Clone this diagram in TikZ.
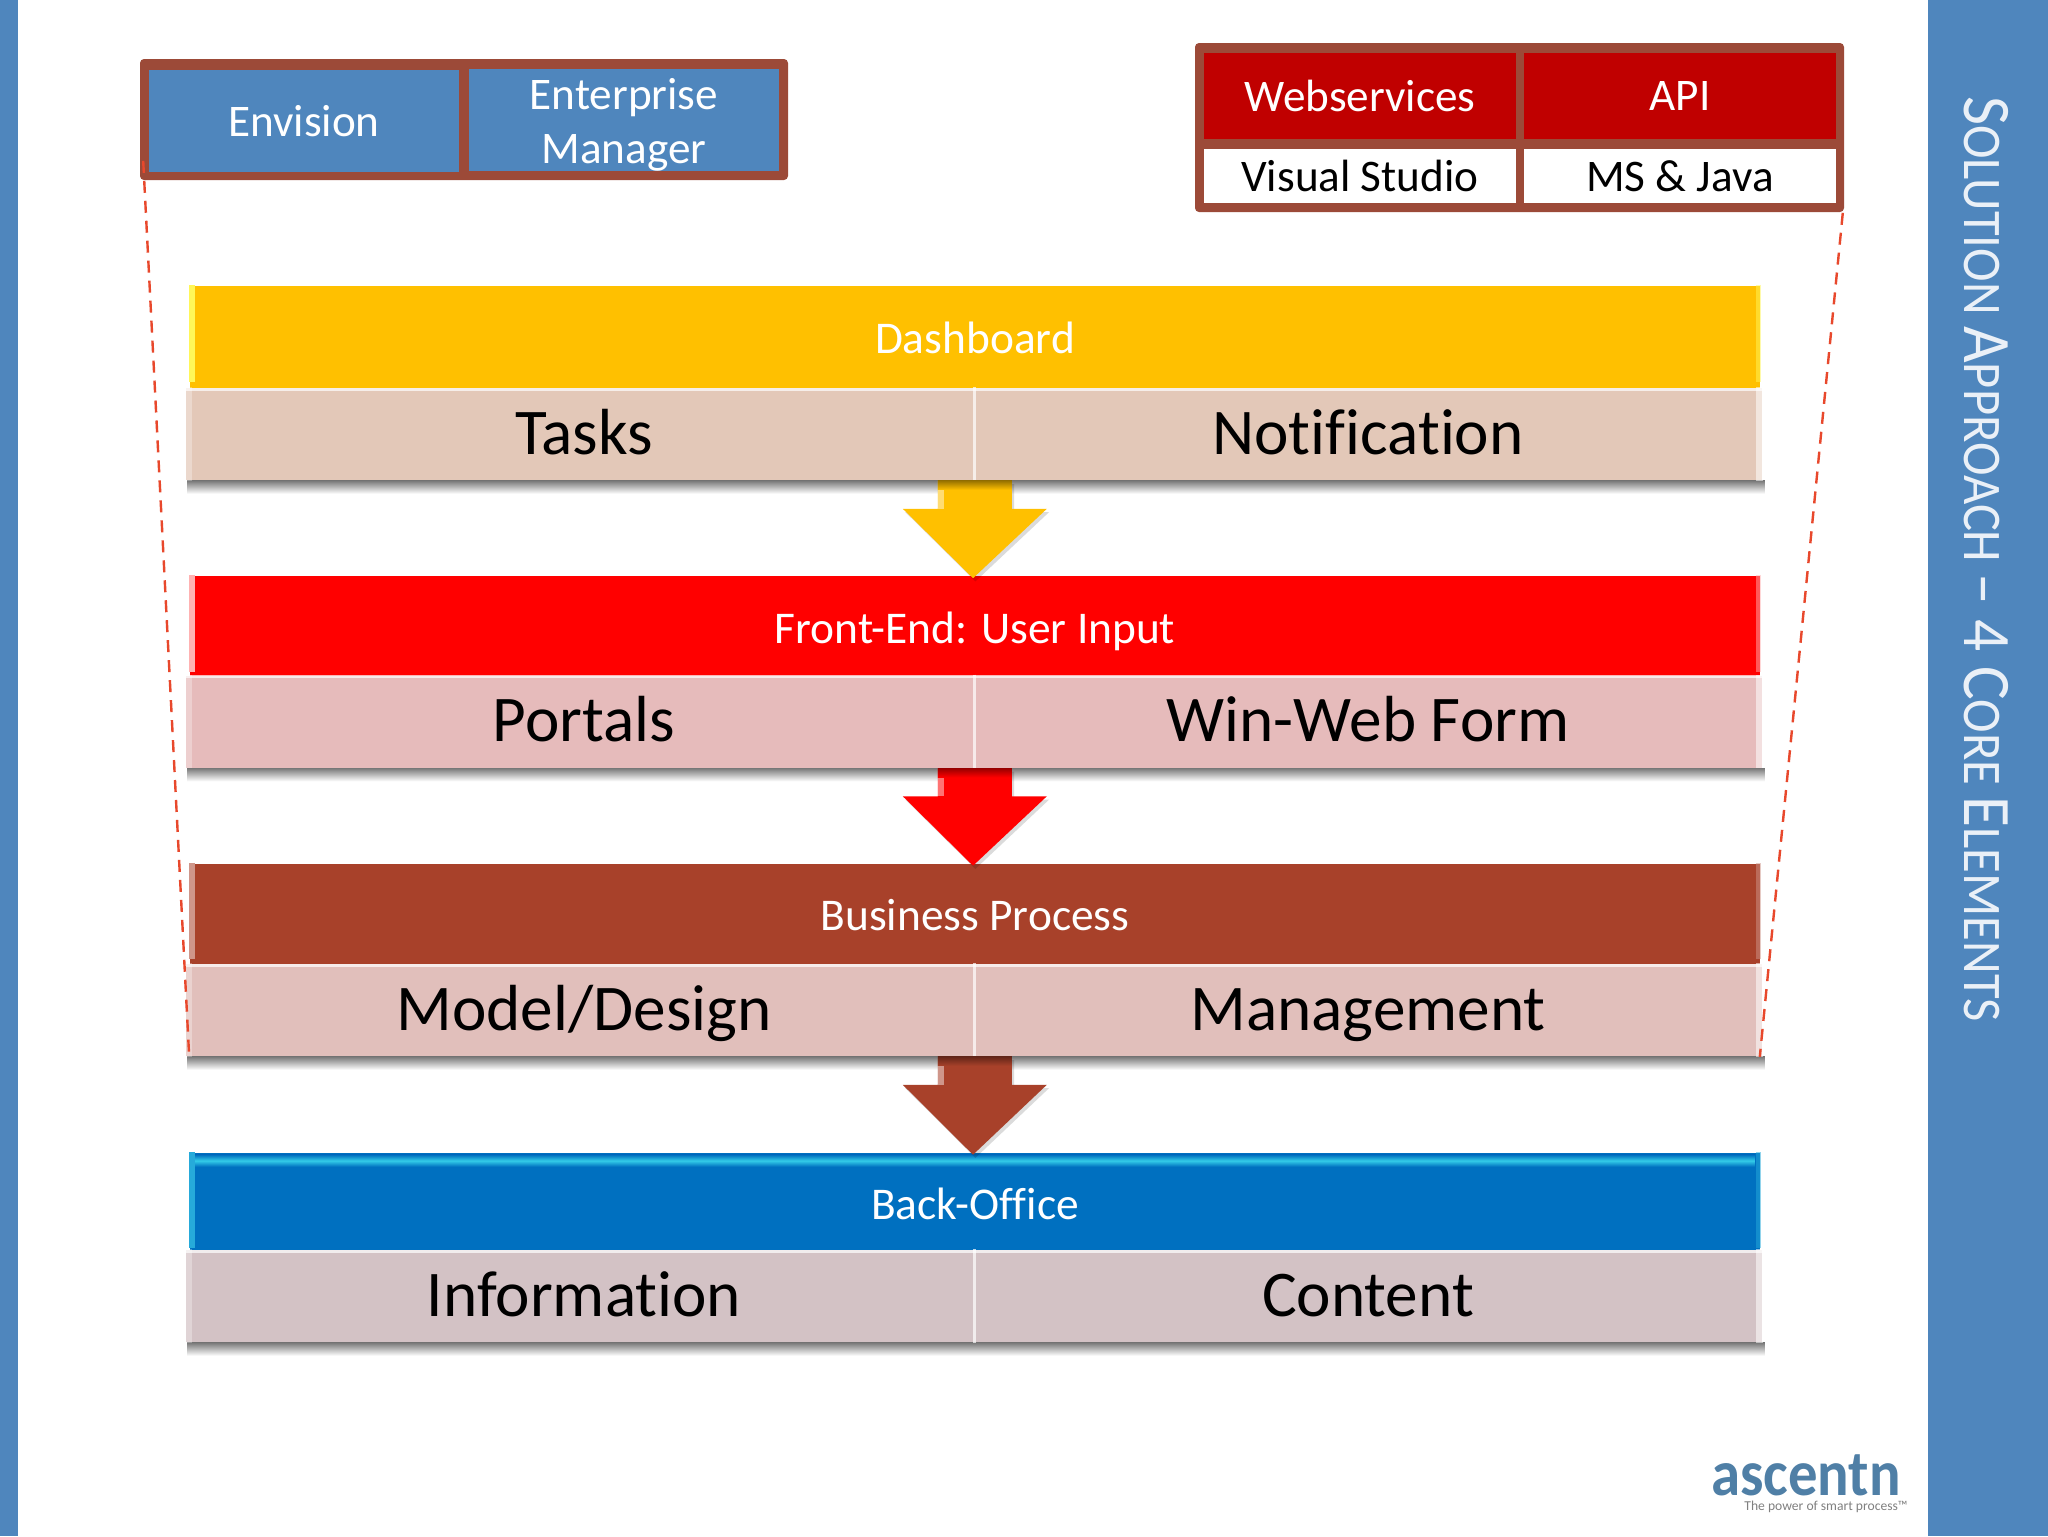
\documentclass[tikz,border=0pt]{standalone}
\usepackage{fontspec}
\setmainfont[RawFeature={-liga}]{Carlito}
\newfontfamily\titleFont[FakeStretch=0.93,RawFeature={-liga}]{Carlito}
\usetikzlibrary{calc, shadows}
\definecolor{bandBlue}{HTML}{4F86BD}
\definecolor{frameBrown}{HTML}{9C4A38}
\definecolor{webRed}{HTML}{C00000}
\definecolor{dashRed}{HTML}{E8482C}
\definecolor{dashYellow}{HTML}{FFC000}
\definecolor{inputRed}{HTML}{FF0000}
\definecolor{processBrown}{HTML}{A8412A}
\definecolor{officeBlue}{HTML}{0070C0}
\definecolor{logoBlue}{HTML}{4F7FA6}
\definecolor{dashSub}{HTML}{E3C8B8}
\definecolor{inputSub}{HTML}{E6BBBB}
\definecolor{processSub}{HTML}{E1BFBB}
\definecolor{officeSub}{HTML}{D3C2C5}
\tikzset{
    cell/.style={rectangle, inner sep=0pt, align=center, font=\fontsize{11.3}{13.7}\selectfont},
    blueCell/.style={cell, fill=bandBlue, text=white, minimum width=77.5pt, minimum height=25.5pt},
    redCell/.style={cell, fill=webRed, text=white, minimum width=78pt, minimum height=21.5pt},
    whiteCell/.style={cell, fill=white, text=black, minimum width=78pt, minimum height=13.5pt},
    layerHead/.style={rectangle, inner sep=0pt, minimum width=392.5pt, minimum height=25.75pt, text=white, text height=8.5pt, text depth=.7pt, font=\fontsize{11.35}{13}\selectfont},
    layerSub/.style={rectangle, inner sep=0pt, minimum width=197pt, minimum height=23pt, text=black, text height=12.3pt, text depth=2.3pt, font=\fontsize{16.3}{18}\selectfont},
    leftSub/.style={layerSub, execute at begin node={\hspace*{2pt}}},
    subEdge/.style={white, opacity=.7, line width=.7pt},
    zoomEdge/.style={dashRed, line width=.6pt, dash pattern=on 3pt off 2pt},
    dropArrow/.style={general shadow={shadow yshift=-.8pt, shadow xshift=.6pt, fill=black, opacity=.14}},
}
% block arrow between two layers
\newcommand{\drawDrop}[3]{
    \fill[#1, dropArrow] ($(#2.south east)+(-37,0)$) -- ++(0,28) -- ++(-35,0) -- ($(#3.north)+(-2,3)$)
        -- ($(#2.south east)+(72,28)$) -- ++(-35,0) -- ($(#2.south east)+(37,0)$) -- cycle;
    \fill[white, opacity=.45] ($(#2.south east)+(-37,0)$) rectangle ($(#2.south east)+(-31,28)$);
    \shade[top color=#1!60!black, bottom color=#1] ($(#2.south east)+(-37,0)$) rectangle ($(#2.south east)+(37,9)$);
}
% soft shadow, seam and light edges of a pair of sub bars
\newcommand{\drawSeam}[2]{
    \shade[top color=black!52, bottom color=white] ($(#1.south west)+(2,0)$) rectangle ($(#2.south east)+(2,13)$);
    \fill[white, opacity=.3] (#1.north west) rectangle ($(#1.south west)+(7,0)$);
    \fill[white, opacity=.55] (#2.north east) rectangle ($(#2.south east)+(-7,0)$);
    \draw[subEdge] ($(#1.north west)+(0,2)$) -- ($(#2.north east)+(0,2)$);
    \draw[subEdge] (#1.north east) -- (#1.south east);
}
% light left and right edges of a layer head
\newcommand{\drawBevel}[2]{
    \fill[#2] (#1.north west) rectangle ($(#1.south west)+(6,-8)$);
    \fill[#2, opacity=.5] ($(#1.north east)+(-5,0)$) rectangle ($(#1.south east)+(0,-8)$);
}
\newcommand{\titleCap}[1]{{\fontsize{17}{20}\selectfont #1}}
\begin{document}
\begin{tikzpicture}[x=0.25pt, y=-0.25pt]
    \useasboundingbox[fill=white] (0,0) rectangle (2048,1536);

    \fill[bandBlue] (0,0) rectangle (18,1536);
    \fill[bandBlue] (1928,0) rectangle (2048,1536);
    \node[rotate=-90, text=white!88!bandBlue, inner sep=0pt, font=\titleFont\fontsize{13.6}{16}\selectfont] (title) at (1986,559) {\titleCap{S}OLUTION \titleCap{A}PPROACH \titleCap{– 4 C}ORE \titleCap{E}LEMENTS};

    % top boxes
    \node[rectangle, fill=frameBrown, rounded corners=1pt, minimum width=162pt, minimum height=30.25pt, inner sep=0pt] (toolFrame) at (464,119.5) {};
    \node[blueCell, yshift=-.3pt] (envision) at (304,120) {Envision};
    \node[blueCell] (manager) at (624,120) {};
    \node[cell, text=white, yshift=-1.2pt] (managerText) at (manager) {Enterprise\\Manager};

    \node[rectangle, fill=frameBrown, rounded corners=1pt, minimum width=162.25pt, minimum height=42.25pt, inner sep=0pt] (stackFrame) at (1519.5,127.5) {};
    \node[redCell] (webservices) at (1360,96) {Webservices};
    \node[redCell] (api) at (1680,96) {API};
    \node[whiteCell] (studio) at (1360,176) {Visual Studio};
    \node[whiteCell] (java) at (1680,176) {MS \& Java};

    % layers
    \node[layerHead, fill=dashYellow] (dashboard) at (975,337.5) {Dashboard};
    \node[leftSub, fill=dashSub] (tasks) at (580,434) {Tasks};
    \node[layerSub, fill=dashSub] (notification) at (1368,434) {Notification};

    \node[layerHead, fill=inputRed] (frontend) at (975,627.5) {Front-End: User Input};
    \node[leftSub, fill=inputSub] (portals) at (580,721.5) {Portals};
    \node[layerSub, fill=inputSub] (winweb) at (1368,721.5) {Win-Web Form};

    \node[layerHead, fill=processBrown] (business) at (975,915) {Business Process};
    \node[leftSub, fill=processSub] (model) at (580,1010) {Model/Design};
    \node[layerSub, fill=processSub] (management) at (1368,1010) {Management};

    \node[layerHead, fill=officeBlue] (backoffice) at (975,1204) {Back-Office};
    \fill[officeBlue!80!black] (backoffice.south west |- 0,1330) rectangle (backoffice.south east |- 0,1345);
    \node[leftSub, fill=officeSub] (information) at (580,1296) {Information};
    \node[layerSub, fill=officeSub] (content) at (1368,1296) {Content};

    \drawBevel{dashboard}{yellow!65!white}
    \drawBevel{frontend}{red!30!white}
    \drawBevel{business}{processBrown!55!white}
    \drawBevel{backoffice}{officeBlue!70!cyan!85!white}
    \shade[top color=officeBlue, bottom color=officeBlue, middle color=officeBlue!45!cyan!80!white] ($(backoffice.north west)+(6,3)$) rectangle ($(backoffice.north east)+(-6,15)$);

    \drawSeam{tasks}{notification}
    \drawSeam{portals}{winweb}
    \drawSeam{model}{management}
    \drawSeam{information}{content}

    \drawDrop{dashYellow}{tasks}{frontend}
    \drawDrop{inputRed}{portals}{business}
    \drawDrop{processBrown}{model}{backoffice}

    \coordinate (zoomLeft) at ($(model.south west)+(4,0)$);
    \coordinate (zoomRight) at ($(management.south east)+(-3,0)$);
    \coordinate (zoomTopLeft) at ($(toolFrame.south west)+(4,-20)$);
    \coordinate (zoomTopRight) at ($(stackFrame.south east)+(-2,0)$);
    \draw[zoomEdge] (zoomTopLeft) -- (zoomLeft);
    \draw[zoomEdge] (zoomTopRight) -- (zoomRight);

    % logo
    \node[text=logoBlue, inner sep=0pt, font=\bfseries\fontsize{14.7}{16}\selectfont] (logo) at (1806,1475) {\scalebox{1}[1.1]{ascentn}};
    \node[text=gray, inner sep=0pt, font=\fontsize{3.4}{4}\selectfont] (tagline) at (1826,1507) {The power of smart process™};
\end{tikzpicture}
\end{document}
